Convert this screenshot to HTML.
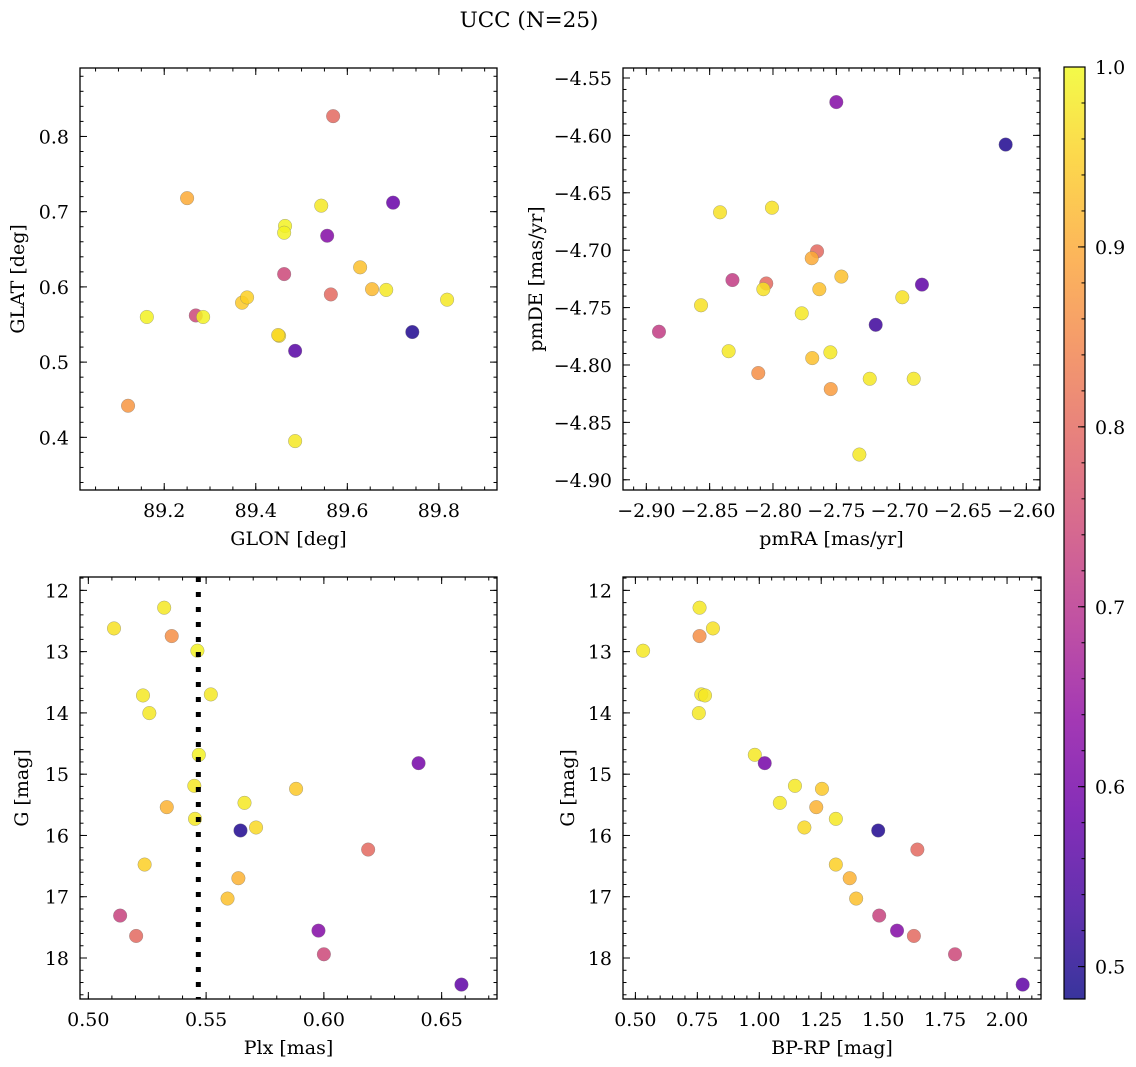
<!DOCTYPE html>
<html><head><meta charset="utf-8"><style>
html,body{margin:0;padding:0;background:#fff;}
svg{display:block;font-family:"DejaVu Serif","Liberation Serif",serif;}
</style></head><body>
<svg id="fig" width="1136" height="1067" viewBox="0 0 1136 1067" xmlns="http://www.w3.org/2000/svg">
<text x="529" y="27" font-size="21.5" text-anchor="middle">UCC (N=25)</text>
</svg>
<script>
// ---- data ----
const glon=[89.569,89.250,89.464,89.462,89.543,89.700,89.556,89.628,89.462,89.654,89.685,89.564,89.818,89.370,89.381,89.162,89.269,89.285,89.451,89.449,89.486,89.742,89.121,89.486];
const glat=[0.827,0.718,0.681,0.672,0.708,0.712,0.668,0.626,0.617,0.597,0.596,0.590,0.583,0.579,0.586,0.560,0.562,0.560,0.535,0.536,0.515,0.540,0.442,0.395];
const probTL=[0.80,0.90,0.99,0.99,0.98,0.58,0.62,0.93,0.74,0.92,0.98,0.80,0.98,0.94,0.95,0.99,0.74,0.99,0.97,0.96,0.56,0.50,0.87,0.98];
const pmra=[-2.750,-2.6163,-2.8418,-2.8008,-2.7652,-2.7694,-2.746,-2.832,-2.8053,-2.8076,-2.7634,-2.6824,-2.6979,-2.8568,-2.7773,-2.7189,-2.890,-2.835,-2.7547,-2.769,-2.8116,-2.7236,-2.6889,-2.7544,-2.7318];
const pmde=[-4.571,-4.608,-4.667,-4.663,-4.701,-4.707,-4.723,-4.726,-4.729,-4.734,-4.734,-4.730,-4.741,-4.748,-4.755,-4.765,-4.771,-4.788,-4.789,-4.794,-4.807,-4.812,-4.812,-4.821,-4.878];
const probTR=[0.62,0.50,0.97,0.97,0.80,0.90,0.93,0.72,0.80,0.97,0.93,0.57,0.97,0.97,0.98,0.53,0.72,0.98,0.98,0.93,0.86,0.98,0.98,0.88,0.98];
const plx=[0.5322,0.5109,0.5354,0.5463,0.5232,0.5520,0.5259,0.5469,0.6402,0.5450,0.5882,0.5333,0.5663,0.5453,0.5646,0.5712,0.6188,0.5239,0.5637,0.5591,0.5135,0.5203,0.5977,0.6000,0.6584];
const gBL=[12.283,12.621,12.746,12.985,13.715,13.698,14.003,14.684,14.820,15.190,15.239,15.538,15.468,15.729,15.919,15.870,16.230,16.475,16.698,17.030,17.308,17.640,17.553,17.939,18.434];
const probBL=[0.98,0.97,0.86,0.99,0.98,0.98,0.98,0.99,0.60,0.98,0.94,0.91,0.98,0.98,0.50,0.96,0.80,0.95,0.91,0.93,0.73,0.80,0.62,0.74,0.57];
const bprp=[0.759,0.813,0.759,0.531,0.766,0.781,0.756,0.982,1.022,1.144,1.253,1.083,1.230,1.309,1.480,1.182,1.638,1.309,1.365,1.391,1.484,1.556,1.624,1.790,2.063];
const gBR=[12.283,12.621,12.746,12.985,13.698,13.715,14.003,14.684,14.820,15.190,15.239,15.468,15.538,15.729,15.919,15.870,16.230,16.475,16.698,17.030,17.308,17.553,17.640,17.939,18.434];
const probBR=[0.98,0.97,0.86,0.98,0.98,0.98,0.98,0.98,0.60,0.98,0.94,0.98,0.91,0.98,0.50,0.96,0.80,0.95,0.91,0.93,0.73,0.62,0.80,0.74,0.57];
const plxMedian=0.5467;
const ticksTLx=[89.2,89.4,89.6,89.8], ticksTLy=[0.4,0.5,0.6,0.7,0.8];
const ticksTRx=[-2.90,-2.85,-2.80,-2.75,-2.70,-2.65,-2.60], ticksTRy=[-4.55,-4.60,-4.65,-4.70,-4.75,-4.80,-4.85,-4.90];
const ticksBLx=[0.50,0.55,0.60,0.65], ticksG=[12,13,14,15,16,17,18];
const ticksBRx=[0.50,0.75,1.00,1.25,1.50,1.75,2.00];
const ticksCb=[0.5,0.6,0.7,0.8,0.9,1.0];
const cbMin=0.482, cbMax=1.0;

const NS="http://www.w3.org/2000/svg";
const svg=document.getElementById('fig');
const FS=19;
const plasma=[[13,8,135],[65,4,157],[106,0,168],[143,13,164],[177,42,144],[204,71,120],[225,100,98],[242,132,75],[252,166,54],[252,206,37],[240,249,33]];
function cmap(v){let t=(v-cbMin)/(cbMax-cbMin);t=Math.max(0,Math.min(1,t));const f=t*10,i=Math.min(9,Math.floor(f)),r=f-i;const a=plasma[i],b=plasma[i+1];return 'rgb('+a.map((c,k)=>Math.round(c+(b[k]-c)*r)).join(',')+')';}
function mk(tag,attrs,parent){const e=document.createElementNS(NS,tag);for(const k in attrs)e.setAttribute(k,attrs[k]);(parent||svg).appendChild(e);return e;}
function fmt(v,d){const s=Math.abs(v).toFixed(d);return (v<0?'\u2212':'')+s;}

function panel(o){
  const g=mk('g',{});
  
  
  const sx=v=>o.x0+(v-o.xd[0])/(o.xd[1]-o.xd[0])*(o.x1-o.x0);
  const sy=v=>o.y0+(v-o.yd[0])/(o.yd[1]-o.yd[0])*(o.y1-o.y0);
  for(let i=0;i<o.xs.length;i++){
    const c=mk('circle',{cx:sx(o.xs[i]),cy:sy(o.ys[i]),r:6.8,fill:cmap(o.ps[i]),'fill-opacity':0.85,stroke:'#777','stroke-width':0.4,'stroke-opacity':0.8},g);
    
    
  }
  if(o.vline!==undefined){
    const l=mk('line',{x1:sx(o.vline),x2:sx(o.vline),y1:o.y0,y2:o.y1,stroke:'#000','stroke-width':5,'stroke-dasharray':'5 10'},g);
    
    
  }
  const tk=mk('g',{stroke:'#000','stroke-width':1},g);
  
  
  const lo=Math.min(...o.xd),hi=Math.max(...o.xd);
  for(let k=Math.ceil(lo/o.xm-1e-6);k*o.xm<=hi+1e-9;k++){const x=sx(k*o.xm);mk('line',{x1:x,x2:x,y1:o.y1,y2:o.y1-3.5},tk);mk('line',{x1:x,x2:x,y1:o.y0,y2:o.y0+3.5},tk);}
  const ylo=Math.min(...o.yd),yhi=Math.max(...o.yd);
  for(let k=Math.ceil(ylo/o.ym-1e-6);k*o.ym<=yhi+1e-9;k++){const y=sy(k*o.ym);mk('line',{x1:o.x0,x2:o.x0+3.5,y1:y,y2:y},tk);mk('line',{x1:o.x1,x2:o.x1-3.5,y1:y,y2:y},tk);}
  for(const v of o.xt){const x=sx(v);mk('line',{x1:x,x2:x,y1:o.y1,y2:o.y1-7},tk);mk('line',{x1:x,x2:x,y1:o.y0,y2:o.y0+7},tk);
    const t=mk('text',{x:x,y:o.y1+27,'font-size':FS,'text-anchor':'middle'},g);t.textContent=fmt(v,o.xdig);
    
    }
  for(const v of o.yt){const y=sy(v);mk('line',{x1:o.x0,x2:o.x0+7,y1:y,y2:y},tk);mk('line',{x1:o.x1,x2:o.x1-7,y1:y,y2:y},tk);
    const t=mk('text',{x:o.x0-11,y:y+7,'font-size':FS,'text-anchor':'end'},g);t.textContent=fmt(v,o.ydig);
    
    }
  const fr=mk('rect',{x:o.x0,y:o.y0,width:o.x1-o.x0,height:o.y1-o.y0,fill:'none',stroke:'#000','stroke-width':1.3},g);
  
  
  const xl=mk('text',{x:(o.x0+o.x1)/2,y:o.y1+55,'font-size':FS,'text-anchor':'middle'},g);xl.textContent=o.xlab;
  
  
  const yx=o.ylx,yy=(o.y0+o.y1)/2;
  const yl=mk('text',{x:yx,y:yy,'font-size':FS,'text-anchor':'middle',transform:'rotate(-90 '+yx+' '+yy+')'},g);yl.textContent=o.ylab;
  
  
}

panel({name:'glon-glat-panel',x0:80,x1:497,y0:68,y1:490,xd:[89.016,89.927],yd:[0.891,0.330],xs:glon,ys:glat,ps:probTL,xt:ticksTLx,yt:ticksTLy,xm:0.05,ym:0.02,xdig:1,ydig:1,xlab:'GLON [deg]',ylab:'GLAT [deg]',ylx:24});
panel({name:'pm-panel',x0:623,x1:1040,y0:68,y1:490,xd:[-2.9184,-2.5892],yd:[-4.5413,-4.9089],xs:pmra,ys:pmde,ps:probTR,xt:ticksTRx,yt:ticksTRy,xm:0.01,ym:0.01,xdig:2,ydig:2,xlab:'pmRA [mas/yr]',ylab:'pmDE [mas/yr]',ylx:542});
panel({name:'plx-g-panel',x0:80,x1:497,y0:577,y1:999,xd:[0.49646,0.6735],yd:[11.782,18.669],xs:plx,ys:gBL,ps:probBL,xt:ticksBLx,yt:ticksG,xm:0.01,ym:0.2,xdig:2,ydig:0,xlab:'Plx [mas]',ylab:'G [mag]',ylx:28,vline:plxMedian});
panel({name:'cmd-panel',x0:623,x1:1041,y0:577,y1:999,xd:[0.45,2.137],yd:[11.782,18.669],xs:bprp,ys:gBR,ps:probBR,xt:ticksBRx,yt:ticksG,xm:0.05,ym:0.2,xdig:2,ydig:0,xlab:'BP-RP [mag]',ylab:'G [mag]',ylx:574});

(function(){
  const cx0=1064,cx1=1085,cy0=67,cy1=999;
  const cg=mk('g',{});
  
  
  const defs=mk('defs',{},cg);
  const lg=mk('linearGradient',{id:'pl',x1:0,y1:1,x2:0,y2:0},defs);
  plasma.forEach((c,i)=>mk('stop',{offset:(i/10),'stop-color':'rgb('+c.join(',')+')'},lg));
  mk('rect',{x:cx0,y:cy0,width:cx1-cx0,height:cy1-cy0,fill:'url(#pl)','fill-opacity':0.82},cg);
  mk('rect',{x:cx0,y:cy0,width:cx1-cx0,height:cy1-cy0,fill:'none',stroke:'#000','stroke-width':1.2},cg);
  const sy=v=>cy1-(v-cbMin)/(cbMax-cbMin)*(cy1-cy0);
  for(let k=25;k<=50;k++){const y=sy(k*0.02);mk('line',{x1:cx1,x2:cx1-3.5,y1:y,y2:y,stroke:'#000'},cg);}
  for(const v of ticksCb){const y=sy(v);mk('line',{x1:cx1,x2:cx1-7,y1:y,y2:y,stroke:'#000'},cg);
    const t=mk('text',{x:cx1+10,y:y+7,'font-size':FS},cg);t.textContent=v.toFixed(1);
    
    }
})();
</script>
</body></html>
